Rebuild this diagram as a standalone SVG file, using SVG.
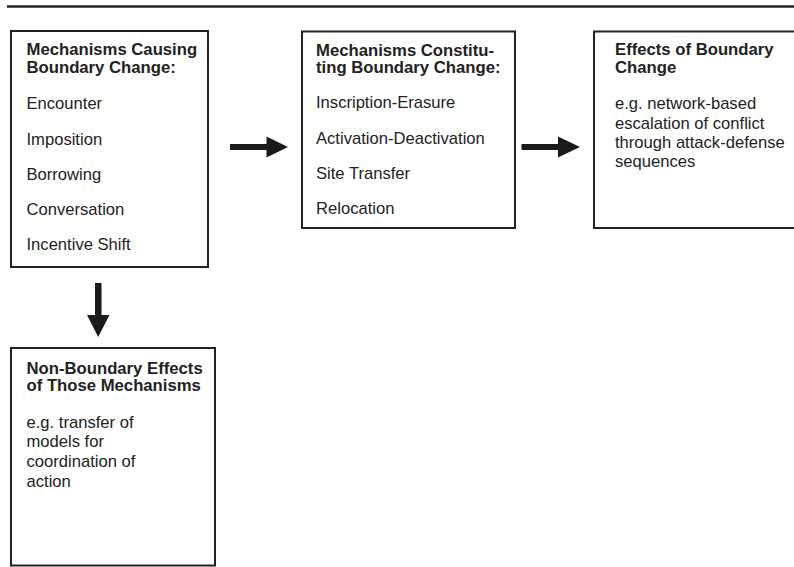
<svg xmlns="http://www.w3.org/2000/svg" width="794" height="567" viewBox="0 0 794 567">
<style>
.box{fill:#fff;stroke:#222;stroke-width:2}
.t{font-family:"Liberation Sans",Arial,sans-serif;font-size:16.7px;font-weight:bold;fill:#222}
.b{font-family:"Liberation Sans",Arial,sans-serif;font-size:16.6px;fill:#222}
.arr{fill:#1a1a1a}
</style>
<rect width="794" height="567" fill="#fff"/>
<line x1="7" y1="6.5" x2="794" y2="6.5" stroke="#222" stroke-width="2.5"/>
<g id="causing">
<rect class="box" x="11" y="31" width="197" height="236"/>
<text class="t" x="26.5" y="55">Mechanisms Causing</text>
<text class="t" x="26.5" y="72.5">Boundary Change:</text>
<text class="b" x="26.5" y="109">Encounter</text>
<text class="b" x="26.5" y="145">Imposition</text>
<text class="b" x="26.5" y="180">Borrowing</text>
<text class="b" x="26.5" y="214.5">Conversation</text>
<text class="b" x="26.5" y="250">Incentive Shift</text>
</g>
<g id="constituting">
<rect class="box" x="302" y="31.5" width="213" height="196.5"/>
<text class="t" x="316" y="55.5">Mechanisms Constitu-</text>
<text class="t" x="316" y="73">ting Boundary Change:</text>
<text class="b" x="316" y="108">Inscription-Erasure</text>
<text class="b" x="316" y="144">Activation-Deactivation</text>
<text class="b" x="316" y="178.5">Site Transfer</text>
<text class="b" x="316" y="214">Relocation</text>
</g>
<g id="effects">
<rect class="box" x="594" y="31.5" width="203" height="196.5"/>
<text class="t" x="615" y="54.5">Effects of Boundary</text>
<text class="t" x="615" y="72.5">Change</text>
<text class="b" x="615" y="109">e.g. network-based</text>
<text class="b" x="615" y="128.5">escalation of conflict</text>
<text class="b" x="615" y="147.5">through attack-defense</text>
<text class="b" x="615" y="166.5">sequences</text>
</g>
<g id="nonboundary">
<rect class="box" x="11" y="348" width="204" height="217.5"/>
<text class="t" x="26.5" y="373.5">Non-Boundary Effects</text>
<text class="t" x="26.5" y="391">of Those Mechanisms</text>
<text class="b" x="26.5" y="427.5">e.g. transfer of</text>
<text class="b" x="26.5" y="447">models for</text>
<text class="b" x="26.5" y="467">coordination of</text>
<text class="b" x="26.5" y="487">action</text>
</g>
<g id="connectors">
<polygon class="arr" points="230,144 266.5,144 266.5,136.5 288,147 266.5,157.5 266.5,150 230,150"/>
<polygon class="arr" points="521.5,144 558,144 558,136.5 580,147 558,157.5 558,150 521.5,150"/>
<polygon class="arr" points="95,283 101.5,283 101.5,315 109.5,315 98.2,337 87,315 95,315"/>
</g>
</svg>
